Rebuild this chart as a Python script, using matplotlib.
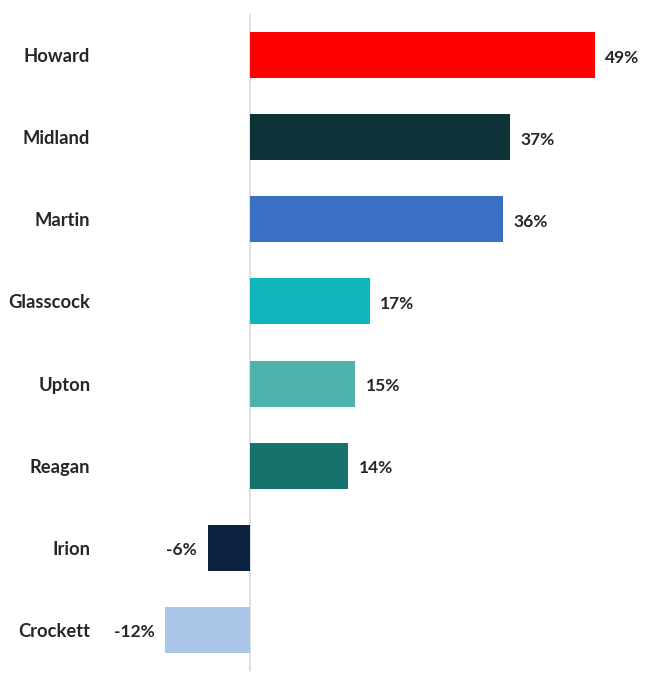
import matplotlib
matplotlib.use("Agg")
import matplotlib.pyplot as plt

counties = ["Howard", "Midland", "Martin", "Glasscock", "Upton", "Reagan", "Irion", "Crockett"]
change_pct = [49, 37, 36, 17, 15, 14, -6, -12]
bar_colors = ["#FF0000", "#0B3338", "#3A70C4", "#10B6BC", "#4DB3AC", "#17716C", "#0B2341", "#AAC6E8"]

plt.rcParams["font.family"] = ["Lato", "DejaVu Sans"]

W, H = 655, 673
fig = plt.figure(figsize=(W / 100, H / 100), dpi=100)

# axes placed so that zero sits near x=250 px
x0, x1 = -14, 56
left_px, right_px = 151.4, 644.0
top_px, bottom_px = 14, 671
ax = fig.add_axes([left_px / W, 1 - bottom_px / H, (right_px - left_px) / W, (bottom_px - top_px) / H])

ypos = list(range(len(counties)))
ax.barh(ypos, change_pct, height=0.56, color=bar_colors)
ax.set_xlim(x0, x1)
ax.set_ylim(len(counties) - 0.5, -0.5)

ax.axvline(0, color="#D9D9D9", lw=1.2, zorder=0)

for y, v in zip(ypos, change_pct):
    if v >= 0:
        ax.text(v + 1.5, y + 0.03, f"{v}%", va="center", ha="left", fontsize=12.5, fontweight="bold", color="#262626")
    else:
        ax.text(v - 1.5, y + 0.03, f"{v}%", va="center", ha="right", fontsize=12.5, fontweight="bold", color="#262626")

ax.set_yticks(ypos)
ax.set_yticklabels(counties, fontsize=13.2, fontweight="bold", color="#262626")
ax.tick_params(axis="y", length=0, pad=44)
ax.set_xticks([])
for s in ax.spines.values():
    s.set_visible(False)

fig.savefig("out.png", dpi=100, facecolor="white")
